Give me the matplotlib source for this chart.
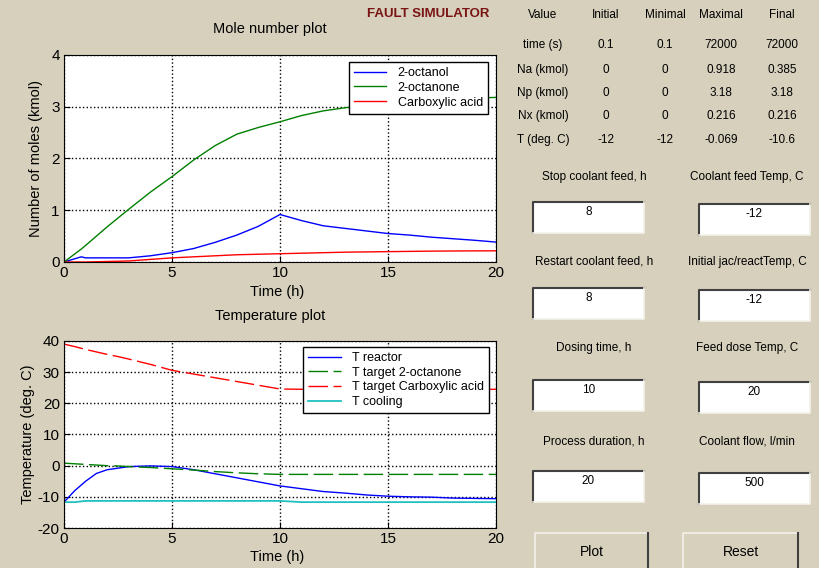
import matplotlib
matplotlib.use('Agg')
import matplotlib.pyplot as plt
from matplotlib.patches import Rectangle
from matplotlib.lines import Line2D

plt.rcParams['font.family'] = ['Liberation Sans', 'DejaVu Sans']
plt.rcParams['axes.unicode_minus'] = False

# Mole number data (kmol) vs time (h)
t_mole = [0, 0.8, 1, 2, 3, 4, 5, 6, 7, 8, 9, 10, 11, 12, 13, 14, 15, 16, 17, 18, 19, 20]
octanol = [0, 0.1, 0.08, 0.08, 0.08, 0.12, 0.18, 0.26, 0.38, 0.52, 0.69, 0.918,
           0.80, 0.70, 0.65, 0.60, 0.55, 0.52, 0.48, 0.45, 0.42, 0.385]
octanone = [0, 0.25, 0.32, 0.68, 1.02, 1.35, 1.65, 1.97, 2.25, 2.47, 2.6, 2.71,
            2.83, 2.92, 2.98, 3.03, 3.07, 3.10, 3.13, 3.15, 3.17, 3.18]
carboxylic = [0, 0, 0, 0.01, 0.02, 0.05, 0.08, 0.1, 0.12, 0.14, 0.15, 0.16,
              0.17, 0.18, 0.19, 0.195, 0.2, 0.205, 0.21, 0.213, 0.215, 0.216]

# Temperature data (deg C) vs time (h)
t_temp = [0, 0.5, 1, 1.5, 2, 2.5, 3, 4, 5, 6, 7, 8, 9, 10, 11, 12, 13, 14, 15, 16, 17, 18, 19, 20]
T_reactor = [-11.7, -8, -5, -2.5, -1.3, -0.8, -0.3, -0.07, -0.3, -1.3, -2.6, -3.9, -5.2, -6.5,
             -7.4, -8.3, -8.8, -9.4, -9.8, -10.0, -10.1, -10.4, -10.5, -10.6]
T_target_one = [0.8, 0.6, 0.4, 0.2, 0.0, -0.1, -0.3, -0.6, -1.0, -1.4, -1.9, -2.3, -2.6, -2.8,
                -2.8, -2.8, -2.8, -2.8, -2.8, -2.8, -2.8, -2.8, -2.8, -2.8]
T_target_acid = [39, 38.2, 37.3, 36.5, 35.7, 35, 34.2, 32.5, 30.6, 29.4, 28.2, 27, 25.8, 24.6,
                 24.5, 24.5, 24.5, 24.5, 24.5, 24.5, 24.5, 24.5, 24.5, 24.5]
T_cooling = [-11.7, -11.7, -11.3, -11.3, -11.3, -11.3, -11.3, -11.3, -11.3, -11.3, -11.3, -11.3,
             -11.3, -11.3, -11.7, -11.7, -11.7, -11.7, -11.7, -11.7, -11.7, -11.7, -11.7, -11.7]

# Summary table
table_cols = ['Value', 'Initial', 'Minimal', 'Maximal', 'Final']
table_rows = [
    ['time (s)', '0.1', '0.1', '72000', '72000'],
    ['Na (kmol)', '0', '0', '0.918', '0.385'],
    ['Np (kmol)', '0', '0', '3.18', '3.18'],
    ['Nx (kmol)', '0', '0', '0.216', '0.216'],
    ['T (deg. C)', '-12', '-12', '-0.069', '-10.6'],
]

# Input fields (label, value)
inputs_left = [('Stop coolant feed, h', '8'), ('Restart coolant feed, h', '8'),
               ('Dosing time, h', '10'), ('Process duration, h', '20')]
inputs_right = [('Coolant feed Temp, C', '-12'), ('Initial jac/reactTemp, C', '-12'),
                ('Feed dose Temp, C', '20'), ('Coolant flow, l/min', '500')]

W, H = 819, 568
BG = '#d6d0bc'


def fx(x):
    return x / W


def fy(y):
    return 1 - y / H


fig = plt.figure(figsize=(8.19, 5.68), dpi=100, facecolor=BG)

blue, green, red, cyan = '#0000ff', '#008000', '#ff0000', '#20c0c0'


def style_axes(ax):
    ax.set_xlim(0, 20)
    ax.set_xticks([0, 5, 10, 15, 20])
    ax.grid(True, color='black', linestyle=':', linewidth=1)
    ax.tick_params(direction='in', labelsize=11, length=4, pad=3)
    for s in ax.spines.values():
        s.set_color('black')


legend_kw = dict(loc='upper right', borderaxespad=0, fancybox=False, framealpha=1,
                 edgecolor='black', fontsize=9, handlelength=2.6, handletextpad=0.9,
                 labelspacing=0.22, borderpad=0.4)

# Mole number plot
ax1 = fig.add_axes([fx(64), fy(262), fx(432), 207 / H])
ax1.plot(t_mole, octanol, color=blue, lw=1, label='2-octanol')
ax1.plot(t_mole, octanone, color=green, lw=1, label='2-octanone')
ax1.plot(t_mole, carboxylic, color=red, lw=1, label='Carboxylic acid')
ax1.set_ylim(0, 4)
ax1.set_yticks([0, 1, 2, 3, 4])
style_axes(ax1)
ax1.set_ylabel('Number of moles (kmol)', fontsize=10.5, labelpad=6)
ax1.legend(bbox_to_anchor=(0.981, 0.966), **legend_kw)

# Temperature plot
ax2 = fig.add_axes([fx(64), fy(528), fx(432), 187 / H])
ax2.plot(t_temp, T_reactor, color=blue, lw=1, label='T reactor')
ax2.plot(t_temp, T_target_one, color=green, lw=1, dashes=(14, 4), label='T target 2-octanone')
ax2.plot(t_temp, T_target_acid, color=red, lw=1, dashes=(14, 4), label='T target Carboxylic acid')
ax2.plot(t_temp, T_cooling, color=cyan, lw=1.3, label='T cooling')
ax2.set_ylim(-20, 40)
ax2.set_yticks([-20, -10, 0, 10, 20, 30, 40])
style_axes(ax2)
ax2.set_ylabel('Temperature (deg. C)', fontsize=10.5, labelpad=2)
ax2.legend(bbox_to_anchor=(0.984, 0.968), **legend_kw)

# titles and x labels
fig.text(fx(270), fy(29), 'Mole number plot', fontsize=10.5, ha='center', va='center')
fig.text(fx(277), fy(292), 'Time (h)', fontsize=10.5, ha='center', va='center')
fig.text(fx(270), fy(316), 'Temperature plot', fontsize=10.5, ha='center', va='center')
fig.text(fx(277), fy(557), 'Time (h)', fontsize=10.5, ha='center', va='center')
fig.text(fx(428), fy(14), 'FAULT SIMULATOR', fontsize=9.5, fontweight='bold',
         color='#7a1414', ha='center', va='center')

# summary table
col_x = [543, 606, 665, 721, 782]
row_y = [45, 70, 93, 116, 140]
for cx, name in zip(col_x, table_cols):
    fig.text(fx(cx), fy(15), name, fontsize=8.5, ha='center', va='center')
for ry, row in zip(row_y, table_rows):
    for cx, val in zip(col_x, row):
        fig.text(fx(cx), fy(ry), val, fontsize=8.5, ha='center', va='center')


def edit_box(x0, y0, x1, y1, value):
    fig.patches.append(Rectangle((fx(x0), fy(y1)), fx(x1 - x0), (y1 - y0) / H,
                                 transform=fig.transFigure, facecolor='white',
                                 edgecolor='none'))
    fig.lines.append(Line2D([fx(x0), fx(x0), fx(x1)], [fy(y1), fy(y0), fy(y0)],
                            transform=fig.transFigure, color='#404040', lw=1.5))
    fig.lines.append(Line2D([fx(x0), fx(x1), fx(x1)], [fy(y1), fy(y1), fy(y0)],
                            transform=fig.transFigure, color='#f4f2ea', lw=1.2))
    fig.text(fx((x0 + x1) / 2), fy(y0 + 10), value, fontsize=8.5, ha='center', va='center')


label_y = [177, 262, 348, 442]
box_y = [202, 288, 380, 471]
for ly, by, (lab, val) in zip(label_y, box_y, inputs_left):
    fig.text(fx(594), fy(ly), lab, fontsize=8.5, ha='center', va='center')
    edit_box(533, by, 644, by + 31, val)
for ly, by, (lab, val) in zip(label_y, box_y, inputs_right):
    fig.text(fx(747), fy(ly), lab, fontsize=8.5, ha='center', va='center')
    edit_box(699, by + 2, 810, by + 33, val)


def button(x0, y0, x1, y1, text):
    fig.lines.append(Line2D([fx(x0), fx(x0), fx(x1)], [fy(y1), fy(y0), fy(y0)],
                            transform=fig.transFigure, color='#f4f2ea', lw=1.2))
    fig.lines.append(Line2D([fx(x1), fx(x1)], [fy(y0), fy(y1)],
                            transform=fig.transFigure, color='#404040', lw=1.5))
    fig.text(fx((x0 + x1) / 2), fy(552), text, fontsize=10, ha='center', va='center')


button(535, 533, 648, 570, 'Plot')
button(683, 533, 798, 570, 'Reset')

fig.savefig('out.png', dpi=100, facecolor=BG)
